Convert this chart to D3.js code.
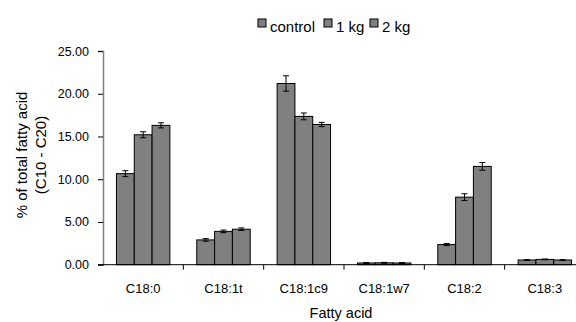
<!DOCTYPE html>
<meta charset="utf-8">
<style>
    body { margin: 0; background: #fff; }
    text { font-family: "Liberation Sans", Arial, sans-serif; fill: #000; }
    .bar { fill: #808080; stroke: #000; stroke-width: 1; }
    .err { stroke: #000; stroke-width: 1; }
</style>
<body>
<script src="https://cdn.jsdelivr.net/npm/d3@7"></script>
<script>

    var categories = ["C18:0", "C18:1t", "C18:1c9", "C18:1w7", "C18:2", "C18:3"];
    var seriesNames = ["control", "1 kg", "2 kg"];
    var control = [10.65, 2.9, 21.2, 0.2, 2.35, 0.55];
    var oneKg   = [15.2, 3.9, 17.35, 0.22, 7.9, 0.62];
    var twoKg   = [16.3, 4.15, 16.4, 0.2, 11.5, 0.55];
    var controlErr = [0.35, 0.15, 0.9, 0.05, 0.12, 0.04];
    var oneKgErr   = [0.35, 0.15, 0.4, 0.05, 0.4, 0.04];
    var twoKgErr   = [0.3, 0.15, 0.25, 0.05, 0.45, 0.04];
    var yTicks = [0, 5, 10, 15, 20, 25];

    var values = [control, oneKg, twoKg];
    var errors = [controlErr, oneKgErr, twoKgErr];

    var width = 576, height = 322;

    var svg = d3.select("body").append("svg")
            .attr("width", width)
            .attr("height", height);

    var x0 = d3.scaleBand()
            .domain(categories)
            .range([103, 585])
            .padding(0);

    var x1 = d3.scaleBand()
            .domain(seriesNames)
            .range([0, x0.bandwidth()])
            .paddingInner(0)
            .paddingOuter(0.755);

    var y = d3.scaleLinear()
            .domain([0, 25])
            .range([264.7, 51]);

    // y axis
    var yAxis = d3.axisLeft(y)
            .tickValues(yTicks)
            .tickSize(5)
            .tickPadding(9)
            .tickFormat(d3.format(".2f"));

    var gy = svg.append("g")
            .attr("transform", "translate(103,0)")
            .call(yAxis);
    gy.select(".domain").attr("stroke", "#808080").attr("stroke-width", 1.5);
    gy.selectAll(".tick line").attr("stroke", "#000");
    gy.selectAll(".tick text").style("font-size", "12.5px");

    // bars
    var groups = svg.append("g").selectAll("g")
        .data(categories)
        .join("g")
            .attr("transform", function(d) { return "translate(" + x0(d) + ",0)"; });

    function rows(d, i) {
        return seriesNames.map(function(s, j) {
            return {s: s, v: values[j][i], e: errors[j][i]};
        });
    }

    groups.selectAll("rect")
        .data(rows)
        .join("rect")
            .attr("class", "bar")
            .attr("x", function(d) { return x1(d.s); })
            .attr("y", function(d) { return y(d.v); })
            .attr("width", x1.bandwidth())
            .attr("height", function(d) { return y(0) - y(d.v); });

    var eb = groups.selectAll("g.eb")
        .data(rows)
        .join("g")
            .attr("class", "eb")
            .attr("transform", function(d) { return "translate(" + (x1(d.s) + x1.bandwidth() / 2) + ",0)"; });

    eb.append("line").attr("class", "err")
        .attr("x1", 0).attr("x2", 0)
        .attr("y1", function(d) { return y(d.v + d.e); })
        .attr("y2", function(d) { return y(d.v - d.e); });
    eb.append("line").attr("class", "err")
        .attr("x1", -3).attr("x2", 3)
        .attr("y1", function(d) { return y(d.v + d.e); })
        .attr("y2", function(d) { return y(d.v + d.e); });
    eb.append("line").attr("class", "err")
        .attr("x1", -3).attr("x2", 3)
        .attr("y1", function(d) { return y(d.v - d.e); })
        .attr("y2", function(d) { return y(d.v - d.e); });

    // x axis
    var gx = svg.append("g")
            .attr("transform", "translate(0," + y(0) + ")");
    gx.append("line")
            .attr("x1", 98).attr("x2", 585)
            .attr("stroke", "#000");
    gx.selectAll("line.tk")
        .data(categories.slice(1))
        .join("line")
            .attr("class", "tk")
            .attr("x1", function(d) { return x0(d); })
            .attr("x2", function(d) { return x0(d); })
            .attr("y1", 0).attr("y2", 5)
            .attr("stroke", "#000");
    gx.selectAll("text")
        .data(categories)
        .join("text")
            .attr("x", function(d) { return x0(d) + x0.bandwidth() / 2; })
            .attr("y", 28)
            .attr("text-anchor", "middle")
            .style("font-size", "13px")
            .text(function(d) { return d; });

    svg.append("text")
            .attr("x", 341)
            .attr("y", 318)
            .attr("text-anchor", "middle")
            .style("font-size", "14.5px")
            .text("Fatty acid");

    var yt = svg.append("text")
            .attr("transform", "translate(27,155) rotate(-90)")
            .attr("text-anchor", "middle")
            .style("font-size", "15px");
    yt.append("tspan").attr("x", 0).attr("dy", 0).text("% of total fatty acid");
    yt.append("tspan").attr("x", 0).attr("dy", 19).text("(C10 - C20)");

    // legend
    var legendX = [258, 324, 370];
    var lg = svg.append("g").selectAll("g")
        .data(seriesNames)
        .join("g")
            .attr("transform", function(d, i) { return "translate(" + legendX[i] + ",19)"; });
    lg.append("rect")
            .attr("width", 8).attr("height", 8)
            .attr("fill", "#808080").attr("stroke", "#000");
    lg.append("text")
            .attr("x", 12).attr("y", 13)
            .style("font-size", "15px")
            .text(function(d) { return d; });

</script>
